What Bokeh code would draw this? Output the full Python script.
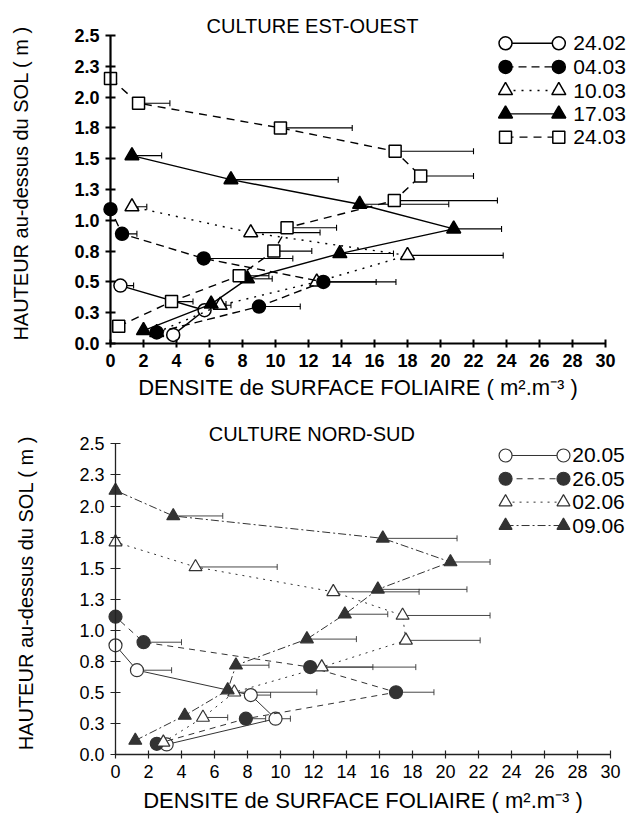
import math
from bokeh.plotting import figure
from bokeh.layouts import column
from bokeh.core.properties import value
from bokeh.models import (ColumnDataSource, Range1d, FixedTicker, Whisker,
                          TeeHead, Label, LabelSet)
from bokeh.embed import file_html
from bokeh.resources import INLINE

# ---------------------------------------------------------------- axes
Y_TICKS = [0.0, 0.25, 0.5, 0.75, 1.0, 1.25, 1.5, 1.75, 2.0, 2.25, 2.5]
Y_TICK_LABELS = ["0.0", "0.3", "0.5", "0.8", "1.0", "1.3", "1.5", "1.8", "2.0", "2.3", "2.5"]
X_TICKS = list(range(0, 31, 2))
X_LABEL = "DENSITE de SURFACE FOLIAIRE ( m\u00b2.m\u207b\u00b3 )"
Y_LABEL = "HAUTEUR au-dessus du SOL ( m )"

# ---------------------------------------------------------------- Culture Est-Ouest
# height above soil (m), leaf area density (m2.m-3), error bar length
eo_2402_h = [0.07, 0.27, 0.47]
eo_2402_d = [3.8, 5.7, 0.6]
eo_2402_e = [0.0, 0.0, 0.8]

eo_0403_h = [0.09, 0.30, 0.50, 0.69, 0.89, 1.09]
eo_0403_d = [2.8, 9.0, 12.9, 5.65, 0.7, 0.0]
eo_0403_e = [0.0, 2.5, 3.2, 5.4, 0.9, 0.0]

eo_1003_h = [0.09, 0.31, 0.50, 0.715, 0.90, 1.11]
eo_1003_d = [2.8, 6.65, 12.5, 18.0, 8.5, 1.3]
eo_1003_e = [0.0, 0.65, 4.8, 5.8, 4.2, 0.9]

eo_1703_h = [0.105, 0.32, 0.525, 0.73, 0.93, 1.13, 1.33, 1.525]
eo_1703_d = [2.0, 6.1, 8.3, 13.9, 20.8, 15.1, 7.3, 1.3]
eo_1703_e = [0.0, 0.9, 1.5, 3.25, 2.9, 5.4, 6.5, 1.8]

eo_2403_h = [0.14, 0.34, 0.55, 0.75, 0.94, 1.16, 1.36, 1.56, 1.75, 1.95, 2.15]
eo_2403_d = [0.5, 3.7, 7.8, 9.9, 10.7, 17.2, 18.8, 17.25, 10.3, 1.7, 0.0]
eo_2403_e = [0.0, 1.3, 1.8, 2.3, 3.0, 6.25, 3.2, 4.75, 4.35, 1.9, 0.0]

# ---------------------------------------------------------------- Culture Nord-Sud
ns_2005_h = [0.083, 0.29, 0.48, 0.68, 0.88]
ns_2005_d = [3.1, 9.7, 8.2, 1.3, 0.0]
ns_2005_e = [0.0, 0.9, 1.2, 2.1, 0.0]

ns_2605_h = [0.088, 0.29, 0.503, 0.705, 0.905, 1.11]
ns_2605_d = [2.5, 7.9, 17.0, 11.8, 1.7, 0.0]
ns_2605_e = [0.0, 1.2, 2.3, 3.8, 2.3, 0.0]

ns_0206_h = [0.10, 0.30, 0.503, 0.705, 0.92, 1.12, 1.31, 1.51, 1.71]
ns_0206_d = [2.9, 5.3, 7.2, 12.5, 17.6, 17.4, 13.2, 4.85, 0.0]
ns_0206_e = [0.0, 1.5, 5.0, 5.7, 4.5, 5.3, 5.2, 4.95, 0.0]

ns_0906_h = [0.115, 0.316, 0.52, 0.72, 0.93, 1.13, 1.33, 1.55, 1.74, 1.92, 2.125]
ns_0906_d = [1.2, 4.2, 6.8, 7.3, 11.6, 13.9, 15.9, 20.3, 16.2, 3.5, 0.0]
ns_0906_e = [0.0, 0.0, 0.0, 2.0, 3.0, 2.6, 5.4, 2.4, 4.5, 3.0, 0.0]

FONT = "Liberation Sans"


def make_panel(height, zero_px, px_per_x, px_per_y, x_axis_px, heavy):
    # the frame fills the whole canvas; both axes sit at the data origin
    x0 = (4 - x_axis_px) / px_per_x
    x1 = (634 - x_axis_px) / px_per_x
    y0 = (zero_px - height) / px_per_y
    y1 = zero_px / px_per_y
    p = figure(width=634, height=height,
               x_range=Range1d(x0, x1), y_range=Range1d(y0, y1),
               min_border_left=4, min_border_right=0, min_border_top=0,
               min_border_bottom=0,
               output_backend="svg", toolbar_location=None)
    p.outline_line_color = None
    p.xgrid.visible = False
    p.ygrid.visible = False
    p.background_fill_color = "white"

    ink = "black" if heavy else "#222222"
    for ax in (p.xaxis[0], p.yaxis[0]):
        ax.axis_line_color = ink
        ax.major_tick_line_color = ink
        ax.minor_tick_line_color = None
        ax.axis_line_width = 2.2 if heavy else 1.3
        ax.major_tick_line_width = 2.0 if heavy else 1.2
        ax.major_label_text_font = FONT
        ax.major_label_text_font_size = "18px"
        ax.major_label_text_font_style = "bold" if heavy else "normal"
        ax.major_label_text_color = "black"
        ax.fixed_location = 0

    xa = p.xaxis[0]
    xa.ticker = FixedTicker(ticks=X_TICKS)
    xa.bounds = (0, 30)
    xa.major_tick_in = 4
    xa.major_tick_out = 4
    xa.major_label_standoff = 6

    ya = p.yaxis[0]
    ya.ticker = FixedTicker(ticks=Y_TICKS)
    ya.major_label_overrides = {t: s for t, s in zip(Y_TICKS, Y_TICK_LABELS)}
    ya.bounds = (0, 2.5)
    ya.major_tick_in = 5
    ya.major_tick_out = 5
    ya.major_label_standoff = 6
    return p


def axis_titles(p, xx, xy, yx, yy):
    # axis titles as free labels, centred on the 0-30 / 0-2.5 axis spans
    p.add_layout(Label(x=xx, y=xy, text=X_LABEL,
                       text_font=FONT, text_font_size="22px",
                       text_align="center", text_baseline="middle",
                       text_color="black"))
    p.add_layout(Label(x=yx, y=yy, text=Y_LABEL, angle=math.pi / 2,
                       text_font=FONT, text_font_size="20px",
                       text_align="center", text_baseline="middle",
                       text_color="black"))


def draw_series(p, h, d, e, marker, filled, dash, heavy, size):
    ink = "black" if heavy else "#333333"
    lw = 1.4 if heavy else 1.0
    src = ColumnDataSource(dict(h=h, d=d))
    eh = [a for a, b in zip(h, e) if b > 0]
    ed = [a for a, b in zip(d, e) if b > 0]
    ee = [a + b for a, b in zip(d, e) if b > 0]
    esrc = ColumnDataSource(dict(h=eh, lo=ed, hi=ee))
    p.add_layout(Whisker(source=esrc, base="h", lower="lo", upper="hi",
                         dimension="width", line_color=ink,
                         line_width=1.1 if heavy else 0.9,
                         lower_head=None,
                         upper_head=TeeHead(size=6, line_color=ink,
                                            line_width=1.1 if heavy else 0.9),
                         level="underlay"))
    p.line("d", "h", source=src, line_color=ink, line_width=lw, line_dash=dash)
    p.scatter("d", "h", source=src, marker=marker, size=size,
              fill_color=ink if filled else "white", line_color=ink,
              line_width=1.5 if heavy else 1.2)


def draw_key(p, rows, x_left, x_right, x_text, styles, names, heavy):
    ink = "black" if heavy else "#333333"
    for y, (marker, filled, dash, size) in zip(rows, styles):
        p.line([x_left, x_right], [y, y], line_color=ink,
               line_width=1.4 if heavy else 1.0, line_dash=dash)
        p.scatter([x_left, x_right], [y, y], marker=marker, size=size,
                  fill_color=ink if filled else "white", line_color=ink,
                  line_width=1.5 if heavy else 1.2)
    lsrc = ColumnDataSource(dict(x=[x_text] * len(rows), y=rows, t=names))
    p.add_layout(LabelSet(x="x", y="y", text="t", source=lsrc,
                          text_font=value(FONT), text_font_size="21px",
                          text_baseline="middle", text_align="left",
                          text_color="black"))


# ================================================================ top panel
top = make_panel(height=404, zero_px=343, px_per_x=16.5, px_per_y=123.2,
                 x_axis_px=110, heavy=True)

eo_styles = [("circle", False, "solid", 13),
             ("circle", True, "8 5", 13),
             ("triangle", False, "2 6", 14),
             ("triangle", True, "solid", 14),
             ("square", False, "8 6", 12)]
eo_series = [(eo_2402_h, eo_2402_d, eo_2402_e),
             (eo_1003_h, eo_1003_d, eo_1003_e),
             (eo_0403_h, eo_0403_d, eo_0403_e),
             (eo_1703_h, eo_1703_d, eo_1703_e),
             (eo_2403_h, eo_2403_d, eo_2403_e)]
eo_order = [0, 2, 1, 3, 4]
for (h, d, e), k in zip(eo_series, eo_order):
    m, f, dash, s = eo_styles[k]
    draw_series(top, h, d, e, m, f, dash, True, s)

eo_dates = ["24.02", "04.03", "10.03", "17.03", "24.03"]
draw_key(top, [2.437, 2.245, 2.053, 1.864, 1.675], 23.94, 27.17, 28.05,
         eo_styles, eo_dates, True)
top.add_layout(Label(x=12.24, y=2.58, text="CULTURE EST-OUEST",
                     text_font=FONT, text_font_size="20px",
                     text_align="center", text_baseline="middle",
                     text_color="black"))
axis_titles(top, 15.0, -0.355, -5.45, 1.30)

# ================================================================ bottom panel
bot = make_panel(height=410, zero_px=350.3, px_per_x=16.5, px_per_y=124.4,
                 x_axis_px=115, heavy=False)

ns_styles = [("circle", False, "solid", 13),
             ("circle", True, "6 5", 13),
             ("triangle", False, "2 5", 13),
             ("triangle", True, "8 3 2 3", 13)]
ns_series = [(ns_2005_h, ns_2005_d, ns_2005_e),
             (ns_2605_h, ns_2605_d, ns_2605_e),
             (ns_0206_h, ns_0206_d, ns_0206_e),
             (ns_0906_h, ns_0906_d, ns_0906_e)]
for (h, d, e), st in zip(ns_series, ns_styles):
    m, f, dash, s = st
    draw_series(bot, h, d, e, m, f, dash, False, s)

ns_dates = ["20.05", "26.05", "02.06", "09.06"]
draw_key(bot, [2.406, 2.219, 2.031, 1.843], 23.64, 27.15, 27.68,
         ns_styles, ns_dates, False)
bot.add_layout(Label(x=11.9, y=2.58, text="CULTURE NORD-SUD",
                     text_font=FONT, text_font_size="20px",
                     text_align="center", text_baseline="middle",
                     text_color="black"))
axis_titles(bot, 15.0, -0.37, -5.4, 1.30)

page = column(top, bot, spacing=0)
open("out.html", "w").write(file_html(page, INLINE))
